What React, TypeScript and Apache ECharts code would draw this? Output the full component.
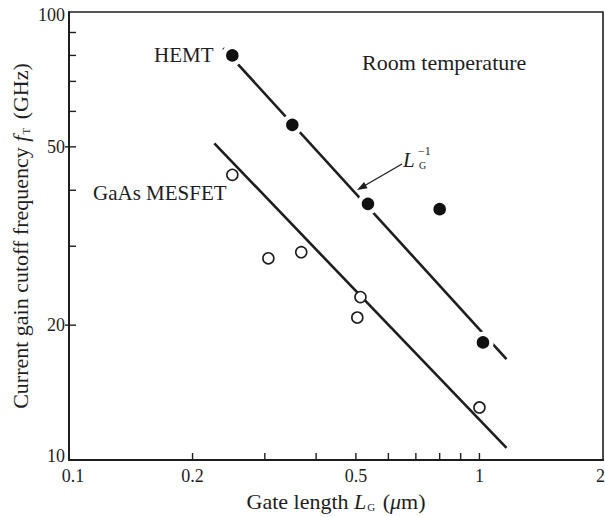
import React, { useEffect, useRef } from "react";
import * as echarts from "echarts";

// ---- data ----
const hemtGateLength = [0.25, 0.35, 0.535, 0.8, 1.02];
const hemtFreq = [80, 56, 37.3, 36.3, 18.3];
const mesfetGateLength = [0.25, 0.306, 0.368, 0.504, 0.513, 1.0];
const mesfetFreq = [43.3, 28.2, 29.1, 20.8, 23.1, 13.1];
const hemtFitL = [0.2375, 1.164];
const hemtFitF = [83.1, 16.8];
const mesfetFitL = [0.226, 1.164];
const mesfetFitF = [50.9, 10.64];

const xMin = 0.1;
const xMax = 2;
const yMin = 10;
const yMax = 100;
const xTickValues = [0.2, 0.3, 0.4, 0.5, 0.6, 0.7, 0.8, 0.9, 1];
const xLabelValues = [0.1, 0.2, 0.5, 1, 2];
const xLabelTexts = ["0.1", "0.2", "0.5", "1", "2"];
const yTickValues = [20, 30, 40, 50, 60, 70, 80, 90];
const yMajorValues = [20, 50];
const yLabelValues = [10, 20, 50, 100];
const yLabelTexts = ["10", "20", "50", "100"];

const FONT = "'Liberation Serif', 'Times New Roman', serif";
const INK = "#1e1e1e";

const zip = (a: number[], b: number[]) => a.map((v, i) => [v, b[i]]);

export default function App() {
  const ref = useRef<HTMLDivElement>(null);
  useEffect(() => {
    document.body.style.margin = "0";
    const chart = echarts.init(ref.current!, undefined, { renderer: "svg" });
    const option: any = {
      animation: false,
      backgroundColor: "#ffffff",
      grid: {
        left: 69,
        right: 2,
        top: 12,
        bottom: 57,
        show: true,
        borderColor: INK,
        borderWidth: 1.6,
        backgroundColor: "transparent",
      },
      xAxis: {
        type: "log",
        logBase: 10,
        min: xMin,
        max: xMax,
        axisLine: { show: true, onZero: false, lineStyle: { color: INK, width: 2 } },
        axisTick: { show: false },
        axisLabel: { show: false },
        splitLine: { show: false },
        minorTick: { show: false },
        name: "{n|Gate length }{i|L}{s|G}{n| (}{i|μ}{n|m)}",
        nameLocation: "middle",
        nameGap: 30,
        nameTextStyle: {
          color: INK,
          fontFamily: FONT,
          fontSize: 22,
          rich: {
            n: { fontFamily: FONT, fontSize: 22, color: INK },
            i: { fontFamily: FONT, fontSize: 22, fontStyle: "italic", color: INK },
            s: { fontFamily: FONT, fontSize: 11, color: INK, verticalAlign: "bottom", padding: [0, 2, 0, 1] },
          },
        },
      },
      yAxis: {
        type: "log",
        logBase: 10,
        min: yMin,
        max: yMax,
        axisLine: { show: true, onZero: false, lineStyle: { color: INK, width: 2 } },
        axisTick: { show: false },
        axisLabel: { show: false },
        splitLine: { show: false },
        minorTick: { show: false },
        name: "{n|Current gain cutoff frequency }{i|f}{s|T}{n| (GHz)}",
        nameLocation: "middle",
        nameRotate: 90,
        nameGap: 38,
        nameTextStyle: {
          color: INK,
          fontFamily: FONT,
          fontSize: 22,
          rich: {
            n: { fontFamily: FONT, fontSize: 22, color: INK },
            i: { fontFamily: FONT, fontSize: 22, fontStyle: "italic", color: INK },
            s: { fontFamily: FONT, fontSize: 11, color: INK, verticalAlign: "bottom", padding: [0, 3, 0, 1] },
          },
        },
      },
      series: [
        {
          type: "line",
          data: zip(hemtFitL, hemtFitF),
          symbol: "none",
          lineStyle: { color: INK, width: 2.6 },
          z: 2,
          silent: true,
        },
        {
          type: "line",
          data: zip(mesfetFitL, mesfetFitF),
          symbol: "none",
          lineStyle: { color: INK, width: 2.6 },
          z: 2,
          silent: true,
        },
        {
          type: "scatter",
          data: zip(hemtGateLength, hemtFreq),
          symbol: "circle",
          symbolSize: 17,
          itemStyle: { color: "#111", borderColor: "#ffffff", borderWidth: 4.5, opacity: 1 },
          z: 5,
          silent: true,
        },
        {
          type: "scatter",
          data: zip(mesfetGateLength, mesfetFreq),
          symbol: "circle",
          symbolSize: 11,
          itemStyle: { color: "#ffffff", borderColor: INK, borderWidth: 1.6, opacity: 1 },
          z: 5,
          silent: true,
        },
        // x minor ticks (inside)
        {
          type: "custom",
          silent: true,
          clip: false,
          z: 3,
          data: xTickValues.map((v) => [v, yMin]),
          renderItem: (params: any, api: any) => {
            const p = api.coord([api.value(0), api.value(1)]);
            return {
              type: "line",
              shape: { x1: p[0], y1: p[1], x2: p[0], y2: p[1] - 7 },
              style: { stroke: INK, lineWidth: 1.4 },
            };
          },
        },
        // y ticks (inside, majors cross)
        {
          type: "custom",
          silent: true,
          clip: false,
          z: 3,
          data: yTickValues.map((v) => [xMin, v]),
          renderItem: (params: any, api: any) => {
            const p = api.coord([api.value(0), api.value(1)]);
            const major = yMajorValues.indexOf(api.value(1)) >= 0;
            return {
              type: "line",
              shape: { x1: p[0] - (major ? 4 : 0), y1: p[1], x2: p[0] + 7, y2: p[1] },
              style: { stroke: INK, lineWidth: 1.4 },
            };
          },
        },
        // x labels
        {
          type: "custom",
          silent: true,
          clip: false,
          z: 3,
          data: xLabelValues.map((v) => [v, yMin]),
          renderItem: (params: any, api: any) => {
            const p = api.coord([api.value(0), api.value(1)]);
            const i = params.dataIndex;
            const last = i === xLabelValues.length - 1;
            return {
              type: "text",
              x: p[0] + (i === 0 ? 4 : last ? 2 : 0),
              y: p[1] + 16,
              style: {
                text: xLabelTexts[i],
                fill: INK,
                fontFamily: FONT,
                fontSize: 18,
                align: last ? "right" : "center",
                verticalAlign: "middle",
              },
            };
          },
        },
        // y labels
        {
          type: "custom",
          silent: true,
          clip: false,
          z: 3,
          data: yLabelValues.map((v) => [xMin, v]),
          renderItem: (params: any, api: any) => {
            const p = api.coord([api.value(0), api.value(1)]);
            const dy = params.dataIndex === 0 ? -4 : params.dataIndex === 3 ? 3 : 0;
            return {
              type: "text",
              x: p[0] - 4,
              y: p[1] + dy,
              style: {
                text: yLabelTexts[params.dataIndex],
                fill: INK,
                fontFamily: FONT,
                fontSize: 18,
                align: "right",
                verticalAlign: "middle",
              },
            };
          },
        },
      ],
      graphic: [
        {
          type: "text",
          x: 154,
          y: 55,
          silent: true,
          style: { text: "HEMT", fill: INK, fontFamily: FONT, fontSize: 21, align: "left", verticalAlign: "middle" },
        },
        {
          type: "text",
          x: 362,
          y: 62,
          silent: true,
          style: { text: "Room temperature", fill: INK, fontFamily: FONT, fontSize: 22, align: "left", verticalAlign: "middle" },
        },
        {
          type: "text",
          x: 93,
          y: 193,
          silent: true,
          style: { text: "GaAs MESFET", fill: INK, fontFamily: FONT, fontSize: 21, align: "left", verticalAlign: "middle" },
        },
        {
          type: "text",
          x: 403,
          y: 160,
          silent: true,
          style: { text: "L", fill: INK, fontFamily: FONT, fontSize: 21, fontStyle: "italic", align: "left", verticalAlign: "middle" },
        },
        {
          type: "text",
          x: 418,
          y: 151,
          silent: true,
          style: { text: "−1", fill: INK, fontFamily: FONT, fontSize: 12, align: "left", verticalAlign: "middle" },
        },
        {
          type: "text",
          x: 419,
          y: 165,
          silent: true,
          style: { text: "G", fill: INK, fontFamily: FONT, fontSize: 10, align: "left", verticalAlign: "middle" },
        },
        {
          type: "line",
          silent: true,
          shape: { x1: 402, y1: 164, x2: 364, y2: 186 },
          style: { stroke: INK, lineWidth: 1.3 },
        },
        {
          type: "polygon",
          silent: true,
          shape: { points: [[357, 190], [367.6, 188.2], [364.1, 182.1]] },
          style: { fill: INK },
        },
      ],
    };
    chart.setOption(option);
    return () => chart.dispose();
  }, []);
  return <div ref={ref} style={{ width: 605, height: 517, background: "#fff" }} />;
}
